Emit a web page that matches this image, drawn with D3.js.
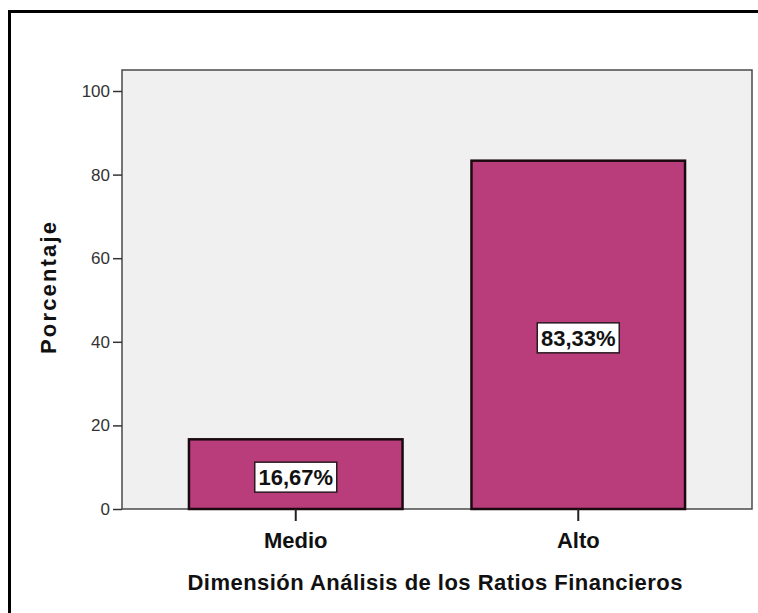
<!DOCTYPE html>
<html>
<head>
<meta charset="utf-8">
<script src="https://cdn.jsdelivr.net/npm/d3@7"></script>
<style>
  html, body { margin: 0; padding: 0; background: #fff; }
  svg { display: block; font-family: "Liberation Sans", Arial, sans-serif; }
</style>
</head>
<body>
<svg id="chart" width="758" height="613"></svg>
<script>
// Percentage of cases per level of the financial ratio analysis dimension
const categories = ["Medio", "Alto"];
const percentages = [16.67, 83.33];
const valueLabels = ["16,67%", "83,33%"];
const yTicks = [0, 20, 40, 60, 80, 100];
const yTitle = "Porcentaje";
const xTitle = "Dimensión Análisis de los Ratios Financieros";

const svg = d3.select("#chart");
const plot = { left: 122, right: 752, top: 70, bottom: 509 };

// Outer frame (top and left edges are the visible ones)
svg.append("path")
  .attr("d", `M9.5,613 V11.5 H758`)
  .attr("fill", "none")
  .attr("stroke", "#000")
  .attr("stroke-width", 3);

const x = d3.scaleBand()
  .domain(categories)
  .range([plot.left, plot.right])
  .paddingInner(0.244)
  .paddingOuter(0.237);

const y = d3.scaleLinear()
  .domain([0, 100])
  .range([plot.bottom, 91]);

// Plot background
svg.append("rect")
  .attr("x", plot.left).attr("y", plot.top)
  .attr("width", plot.right - plot.left).attr("height", plot.bottom - plot.top)
  .attr("fill", "#f0f0f0")
  .attr("stroke", "#4a4a4a")
  .attr("stroke-width", 1.5);

// Bars
svg.selectAll("rect.bar")
  .data(categories)
  .join("rect")
  .attr("class", "bar")
  .attr("x", d => x(d))
  .attr("y", (d, i) => y(percentages[i]))
  .attr("width", x.bandwidth())
  .attr("height", (d, i) => y(0) - y(percentages[i]))
  .attr("fill", "#b93c7b")
  .attr("stroke", "#1a0a10")
  .attr("stroke-width", 2.5);

// Value labels in white boxes, centred in each bar
const labels = svg.selectAll("g.vlabel")
  .data(categories)
  .join("g")
  .attr("class", "vlabel")
  .attr("transform", (d, i) => `translate(${x(d) + x.bandwidth() / 2},${(y(percentages[i]) + y(0)) / 2 + 3})`);

labels.append("rect")
  .attr("x", -41).attr("y", -15)
  .attr("width", 82).attr("height", 30)
  .attr("fill", "#fff")
  .attr("stroke", "#2a1a20")
  .attr("stroke-width", 1.5);

labels.append("text")
  .attr("text-anchor", "middle")
  .attr("dy", "0.36em")
  .attr("font-size", 22)
  .attr("font-weight", "bold")
  .attr("fill", "#111")
  .text((d, i) => valueLabels[i]);

// Y axis
const yAxis = d3.axisLeft(y).tickValues(yTicks).tickSize(9).tickPadding(3).tickFormat(d3.format("d"));
const gy = svg.append("g").attr("transform", `translate(${plot.left},0)`).call(yAxis);
gy.select(".domain").remove();
gy.selectAll(".tick line").attr("stroke", "#333").attr("stroke-width", 1.5);
gy.selectAll(".tick text")
  .attr("font-size", 17)
  .attr("fill", "#333")
  .attr("font-family", "Liberation Sans, Arial, sans-serif");

// X axis
const xAxis = d3.axisBottom(x).tickSize(12).tickPadding(11);
const gx = svg.append("g").attr("transform", `translate(0,${plot.bottom})`).call(xAxis);
gx.select(".domain").remove();
gx.selectAll(".tick line").attr("stroke", "#222").attr("stroke-width", 2);
gx.selectAll(".tick text")
  .attr("font-size", 22)
  .attr("font-weight", "bold")
  .attr("fill", "#111")
  .attr("font-family", "Liberation Sans, Arial, sans-serif");

// Axis titles
svg.append("text")
  .attr("transform", `translate(56,288) rotate(-90)`)
  .attr("text-anchor", "middle")
  .attr("font-size", 22)
  .attr("font-weight", "bold")
  .attr("fill", "#111")
  .attr("textLength", 132)
  .attr("lengthAdjust", "spacing")
  .text(yTitle);

svg.append("text")
  .attr("x", (plot.left + plot.right) / 2 - 2)
  .attr("y", 590)
  .attr("text-anchor", "middle")
  .attr("font-size", 22)
  .attr("font-weight", "bold")
  .attr("fill", "#111")
  .attr("textLength", 495)
  .attr("lengthAdjust", "spacing")
  .text(xTitle);
</script>
</body>
</html>
